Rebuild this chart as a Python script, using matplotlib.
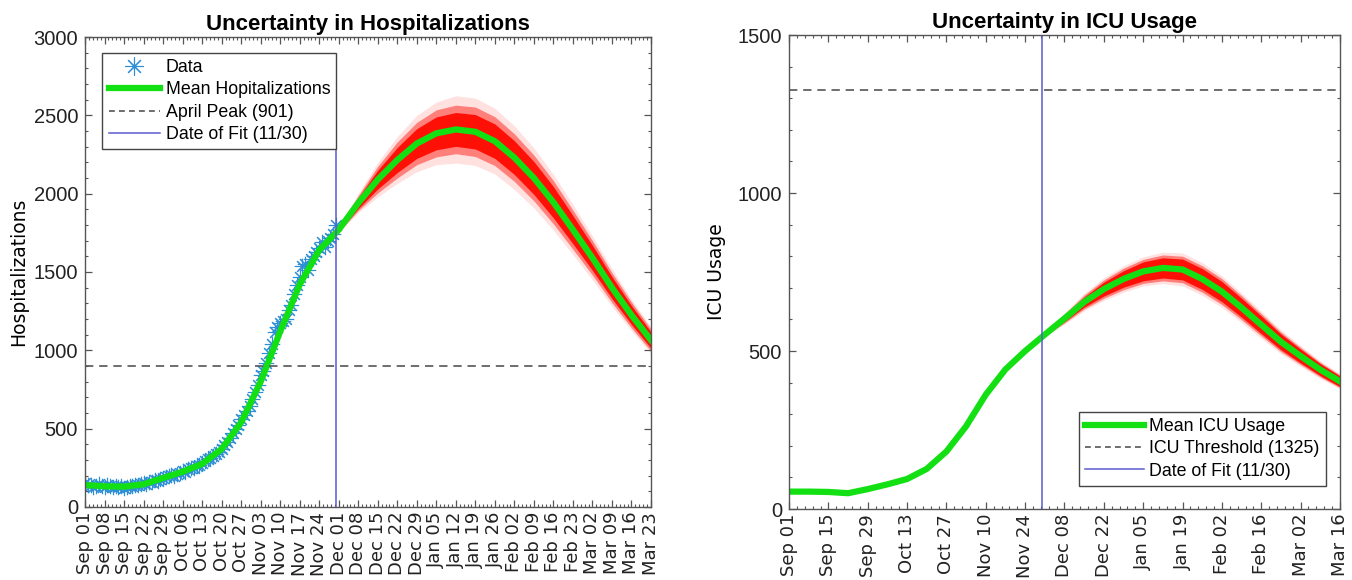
import numpy as np
import matplotlib
matplotlib.use("Agg")
import matplotlib.pyplot as plt
from matplotlib.ticker import MultipleLocator
from matplotlib.lines import Line2D

plt.rcParams['font.family'] = ['DejaVu Sans']

# --- hospitalizations (days counted from Sep 01) ---
hosp_data = [150, 138, 142, 128, 135, 147, 132, 126, 140, 131, 125, 137, 129, 133, 122,
             128, 135, 131, 140, 138, 146, 152, 149, 160, 158, 170, 165, 178, 184, 190,
             198, 205, 196, 212, 220, 228, 225, 241, 250, 246, 262, 271, 280, 292, 305,
             312, 325, 340, 352, 372, 395, 415, 440, 472, 500, 525, 560, 590, 615, 645,
             690, 735, 780, 840, 870, 920, 985, 1040, 1120, 1150, 1175, 1185, 1200, 1260, 1290,
             1360, 1420, 1470, 1540, 1550, 1510, 1580, 1600, 1630, 1650, 1690, 1660, 1700, 1720, 1740, 1800]
hosp_mean = [140, 132, 130, 145, 185, 225, 275, 370, 540, 800, 1120, 1420, 1640, 1770,
             1940, 2090, 2215, 2320, 2385, 2410, 2395, 2335, 2230, 2100, 1945, 1770,
             1590, 1400, 1225, 1065]
# spread of the simulated runs from Nov 24 onwards (weekly)
hosp_spread_in = [0, 10, 35, 60, 80, 95, 105, 108, 110, 110, 108, 105, 100, 90, 80, 70, 60, 52]
hosp_spread_mid = [0, 14, 48, 85, 115, 135, 150, 155, 158, 156, 152, 146, 138, 125, 110, 95, 82, 70]
hosp_spread_out = [0, 18, 62, 110, 150, 180, 200, 215, 215, 210, 203, 192, 178, 160, 140, 120, 100, 85]

# --- ICU ---
icu_mean = [55, 55, 54, 50, 63, 78, 95, 127, 182, 262, 362, 442, 500, 552, 603, 655,
            696, 728, 752, 763, 758, 728, 688, 637, 583, 529, 484, 441, 404]
icu_spread_in = [0, 3, 10, 16, 22, 26, 30, 32, 33, 33, 32, 30, 28, 25, 22, 19, 17]
icu_spread_mid = [0, 4, 14, 22, 29, 34, 38, 41, 42, 42, 41, 38, 35, 31, 27, 23, 20]
icu_spread_out = [0, 6, 18, 28, 36, 42, 46, 50, 52, 52, 50, 47, 43, 38, 33, 28, 24]

april_peak = 901
icu_threshold = 1325
fit_day = 90  # Nov 30
fit_line_top = 2500

left_labels = ['Sep 01', 'Sep 08', 'Sep 15', 'Sep 22', 'Sep 29', 'Oct 06', 'Oct 13', 'Oct 20',
               'Oct 27', 'Nov 03', 'Nov 10', 'Nov 17', 'Nov 24', 'Dec 01', 'Dec 08', 'Dec 15',
               'Dec 22', 'Dec 29', 'Jan 05', 'Jan 12', 'Jan 19', 'Jan 26', 'Feb 02', 'Feb 09',
               'Feb 16', 'Feb 23', 'Mar 02', 'Mar 09', 'Mar 16', 'Mar 23']
right_labels = ['Sep 01', 'Sep 15', 'Sep 29', 'Oct 13', 'Oct 27', 'Nov 10', 'Nov 24', 'Dec 08',
                'Dec 22', 'Jan 05', 'Jan 19', 'Feb 02', 'Feb 16', 'Mar 02', 'Mar 16']

GREEN = '#12e012'
RED = '#ff0a00'
BLUE = '#5b5bd0'
STAR = '#2f8fd6'
GREY = '#555555'

narrow = ['Liberation Sans', 'DejaVu Sans']

fig = plt.figure(figsize=(13.52, 5.8), dpi=100)
ax1 = fig.add_axes([0.0629, 0.1259, 0.4186, 0.8103])
ax2 = fig.add_axes([0.5836, 0.1224, 0.4075, 0.8172])


def band(ax, days, mean, s_in, s_mid, s_out):
    m = np.array(mean, dtype=float)
    for s, a in [(s_out, 0.12), (s_mid, 0.45), (s_in, 0.95)]:
        s = np.array(s, dtype=float)
        ax.fill_between(days, m - s, m + s, color=RED, alpha=a, lw=0)


def style(ax, ymax, xmax, labels, step, minor):
    ax.set_xlim(0, xmax)
    ax.set_ylim(0, ymax)
    ax.set_xticks(np.arange(len(labels)) * step)
    ax.set_xticklabels(labels, rotation=90, fontsize=13, color='#222222')
    ax.xaxis.set_minor_locator(MultipleLocator(minor))
    ax.yaxis.set_major_locator(MultipleLocator(500))
    ax.yaxis.set_minor_locator(MultipleLocator(100))
    ax.tick_params(which='both', direction='in', top=True, right=True, colors=GREY,
                   labelcolor='#222222')
    ax.tick_params(which='major', length=5, width=0.9)
    ax.tick_params(which='minor', length=2.5, width=0.8)
    ax.tick_params(axis='y', labelsize=14.5, pad=5)
    for lab in ax.get_yticklabels():
        lab.set_family(narrow)
    for sp in ax.spines.values():
        sp.set_color(GREY)
        sp.set_linewidth(1.0)


# ---------- left: hospitalizations ----------
hosp_days = np.arange(len(hosp_mean)) * 7
band_days_h = hosp_days[12:12 + len(hosp_spread_in)]
band(ax1, band_days_h, hosp_mean[12:12 + len(hosp_spread_in)],
     hosp_spread_in, hosp_spread_mid, hosp_spread_out)
ax1.plot(np.arange(len(hosp_data)), hosp_data, ls='none', marker=(8, 2, 0), ms=11,
         mew=0.8, color=STAR)
ax1.plot(hosp_days, hosp_mean, color=GREEN, lw=4.5, solid_joinstyle='round')
ax1.axhline(april_peak, color=GREY, ls=(0, (5, 3.5)), lw=1.2)
ax1.vlines(fit_day, 0, fit_line_top, color=BLUE, lw=1.1)
style(ax1, 3000, 203, left_labels, 7, 1.4)
ax1.set_ylabel('Hospitalizations', fontsize=13.5, labelpad=4)
ax1.set_title('Uncertainty in Hospitalizations', fontsize=16, fontweight='bold',
              family=narrow, pad=5)

h1 = [Line2D([], [], ls='none', marker=(8, 2, 0), ms=13, mew=0.8, color=STAR),
      Line2D([], [], color=GREEN, lw=4.5),
      Line2D([], [], color=GREY, ls=(0, (3.5, 2.5)), lw=1.2),
      Line2D([], [], color=BLUE, lw=1.1)]
leg1 = ax1.legend(h1, ['Data', 'Mean Hopitalizations', 'April Peak (901)', 'Date of Fit (11/30)'],
                  loc='upper left', bbox_to_anchor=(0.015, 0.985), fancybox=False,
                  edgecolor='#444444', framealpha=1, handlelength=2.9, handletextpad=0.3,
                  borderpad=0.35, labelspacing=0.3, prop={'family': narrow, 'size': 12.8})
leg1.get_frame().set_linewidth(1.0)

# ---------- right: ICU ----------
icu_days = np.arange(len(icu_mean)) * 7
band_days_i = icu_days[12:12 + len(icu_spread_in)]
band(ax2, band_days_i, icu_mean[12:12 + len(icu_spread_in)],
     icu_spread_in, icu_spread_mid, icu_spread_out)
ax2.plot(icu_days, icu_mean, color=GREEN, lw=4.5, solid_joinstyle='round')
ax2.axhline(icu_threshold, color=GREY, ls=(0, (5, 3.5)), lw=1.2)
ax2.axvline(fit_day, color=BLUE, lw=1.1)
style(ax2, 1500, 196, right_labels, 14, 2.8)
ax2.set_ylabel('ICU Usage', fontsize=13.5, labelpad=8)
ax2.set_title('Uncertainty in ICU Usage', fontsize=16, fontweight='bold',
              family=narrow, pad=5)

h2 = [Line2D([], [], color=GREEN, lw=4.5),
      Line2D([], [], color=GREY, ls=(0, (3.5, 2.5)), lw=1.2),
      Line2D([], [], color=BLUE, lw=1.1)]
leg2 = ax2.legend(h2, ['Mean ICU Usage', 'ICU Threshold (1325)', 'Date of Fit (11/30)'],
                  loc='lower right', bbox_to_anchor=(0.99, 0.03), fancybox=False,
                  edgecolor='#444444', framealpha=1, handlelength=3.3, handletextpad=0.3,
                  borderpad=0.35, labelspacing=0.3, prop={'family': narrow, 'size': 12.8})
leg2.get_frame().set_linewidth(1.0)

fig.savefig('out.png', dpi=100)
